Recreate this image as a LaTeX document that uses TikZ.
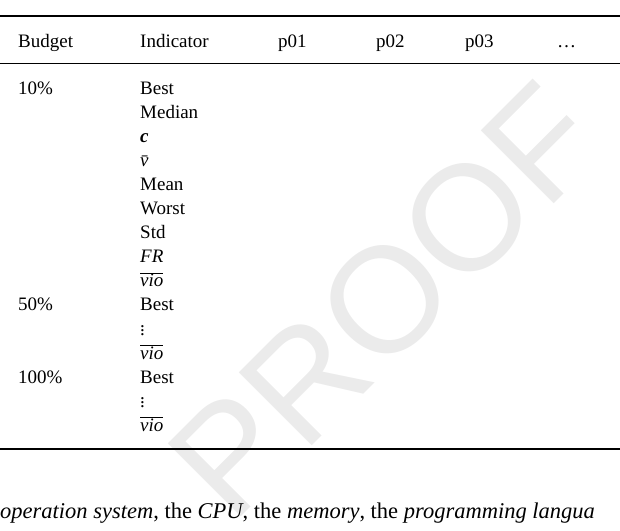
\documentclass[tikz,border=0pt]{standalone}
\usepackage{fontspec}
\setmainfont{Liberation Serif}
\setsansfont{Liberation Sans}
\begin{document}
\begin{tikzpicture}[x=1pt,y=-1pt,
  cell/.style={anchor=base west,inner sep=0,font=\fontsize{19}{22}\selectfont},
  rulel/.style={line width=1.3pt}]
\useasboundingbox (0,0) rectangle (620,530);
\begin{scope}
\clip (0,0) rectangle (620,530);
\node[rotate=45,text=black!8,font=\sffamily\fontsize{150}{150}\selectfont] (wm) at (385,300) {PROOF};
\end{scope}
\coordinate (r1a) at (0,16); \coordinate (r1b) at (620,16);
\coordinate (r2a) at (0,63); \coordinate (r2b) at (620,63);
\coordinate (r3a) at (0,449); \coordinate (r3b) at (620,449);
\draw[rulel] (r1a) -- (r1b);
\draw[line width=0.9pt] (r2a) -- (r2b);
\draw[rulel] (r3a) -- (r3b);
\node[cell] (h1) at (18,47) {Budget};
\node[cell] (h2) at (140,47) {Indicator};
\node[cell] (h3) at (278,47) {p01};
\node[cell] (h4) at (376,47) {p02};
\node[cell] (h5) at (465,47) {p03};
\node[cell] (h6) at (557,47) {\dots};
\node[cell] (b1) at (18,94) {10\%};
\node[cell] (b2) at (18,310) {50\%};
\node[cell] (b3) at (18,383) {100\%};
\foreach \t [count=\i] in {Best,Median,{\textbf{\textit{c}}},{\textit{\=v}},Mean,Worst,Std,{\textit{FR}},{\textit{$\overline{\mbox{vio}}$}},Best,{$\vdots$},{\textit{$\overline{\mbox{vio}}$}},Best,{$\vdots$},{\textit{$\overline{\mbox{vio}}$}}}
  \node[cell] (i\i) at (140,{94+(\i-1)*24.1}) {\t};
\node[cell,font=\fontsize{22.5}{26}\selectfont] (txt) at (0,518) {\textit{operation system}, the \textit{CPU}, the \textit{memory}, the \textit{programming langua}};
\end{tikzpicture}
\end{document}
